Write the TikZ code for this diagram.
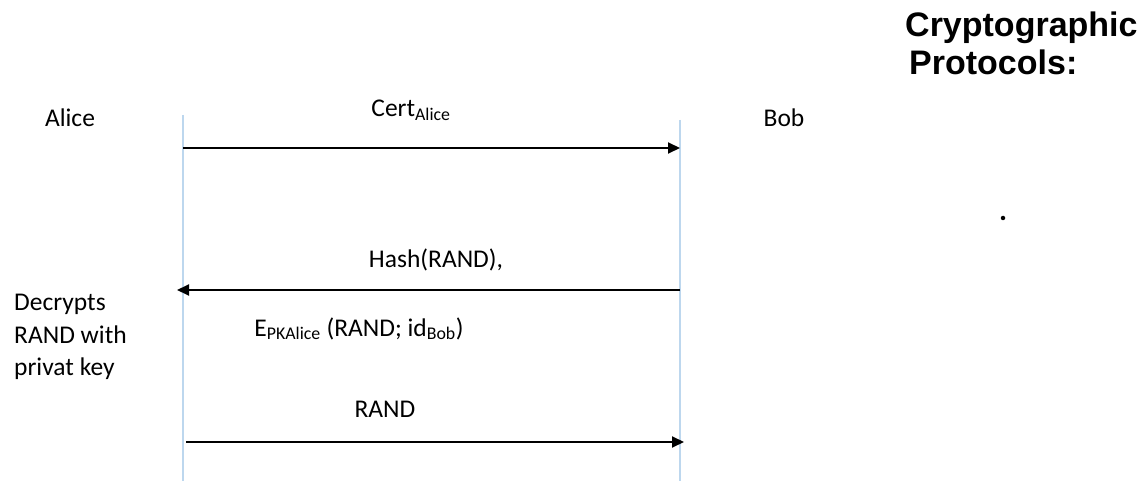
\documentclass[tikz,border=0pt]{standalone}
\usepackage{fontspec}
\setmainfont{Carlito}
\newfontfamily\titlefont{Liberation Sans}
\usetikzlibrary{arrows.meta}
\definecolor{lifeblue}{HTML}{BDD7EE}
\begin{document}
\begin{tikzpicture}[x=1pt,y=-1pt,
  lbl/.style={inner sep=0pt,anchor=base,font=\fontsize{25.5}{30}\selectfont},
  note/.style={lbl,anchor=base west},
  lifeline/.style={draw=lifeblue,line width=1.5pt},
  msg/.style={draw=black,line width=2pt,-{Triangle[length=12pt,width=11pt]}},
  ttl/.style={inner sep=0pt,anchor=base west,font=\titlefont\bfseries\fontsize{34}{38}\selectfont}]
\useasboundingbox (0,0) rectangle (1144,481);
% lifelines
\coordinate (atop) at (183,115);
\coordinate (abot) at (183,481);
\coordinate (btop) at (680,120);
\coordinate (bbot) at (680,481);
\draw[lifeline] (atop) -- (abot);
\draw[lifeline] (btop) -- (bbot);
% participants
\node[lbl] (alice) at (70,127) {Alice};
\node[lbl] (bob) at (784,127) {Bob};
% title
\node[ttl] (title1) at (905,37) {Cryptographic};
\node[ttl] (title2) at (909,75) {Protocols:};
\node[circle,fill=black,inner sep=0pt,minimum size=4.5pt] (dot) at (1003,218) {};
% message 1
\coordinate (m1a) at (183,148);
\coordinate (m1b) at (680,148);
\draw[msg] (m1a) -- (m1b);
\node[lbl] (cert) at (411,117) {Cert\textsubscript{Alice}};
% message 2
\coordinate (m2b) at (680,290);
\coordinate (m2a) at (177,290);
\draw[msg] (m2b) -- (m2a);
\node[lbl] (hash) at (436,268) {Hash(RAND),};
\node[lbl] (enc) at (359,336) {E\textsubscript{PKAlice} (RAND; id\textsubscript{Bob})};
% decrypt note
\node[note] (dec1) at (14,310) {Decrypts};
\node[note] (dec2) at (14,344) {RAND with};
\node[note] (dec3) at (14,375) {privat key};
% message 3
\coordinate (m3a) at (186,442);
\coordinate (m3b) at (684,442);
\draw[msg] (m3a) -- (m3b);
\node[lbl] (rand) at (385,417) {RAND};
\end{tikzpicture}
\end{document}
